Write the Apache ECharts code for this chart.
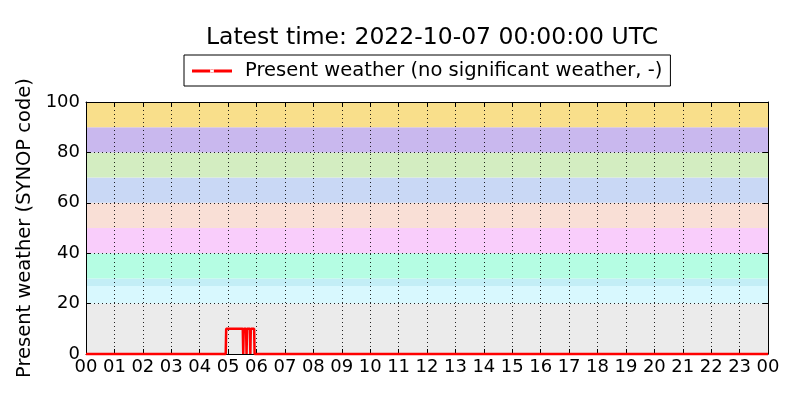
<!DOCTYPE html>
<html>
<head>
<meta charset="utf-8">
<script src="https://cdn.jsdelivr.net/npm/echarts@6/dist/echarts.min.js"></script>
<style>html,body{margin:0;padding:0;background:#fff}#c{width:800px;height:400px}</style>
</head>
<body>
<div id="c"></div>
<script>
// minutes since 00:00 UTC and present-weather code
const timesMin = [0, 295, 296, 331, 332, 333, 338, 339, 340, 346, 347, 348, 355, 356, 1440];
const weatherCode = [0, 0, 10, 10, 0, 10, 10, 0, 10, 10, 0, 10, 10, 0, 0];
const hourLabels = ['00','01','02','03','04','05','06','07','08','09','10','11','12','13','14','15','16','17','18','19','20','21','22','23','00'];
const bandLow  = [0, 20, 27, 30, 40, 50, 60, 70, 80, 90];
const bandHigh = [20, 27, 30, 40, 50, 60, 70, 80, 90, 100];
const bandColors = ['#ebebeb', '#d8f8fe', '#c3eef6', '#b5fde3', '#f9cdfb', '#f9dfd6', '#c9d8f5', '#d3edc1', '#c9b8ee', '#f9df8b'];
const titleText = 'Latest time: 2022-10-07 00:00:00 UTC';
const seriesName = 'Present weather (no significant weather, -)';
const yName = 'Present weather (SYNOP code)';

const FONT = 'DejaVu Sans';
const lineData = timesMin.map((t, i) => [t, weatherCode[i]]);
const bands = bandLow.map((lo, i) => [
  { yAxis: lo, itemStyle: { color: bandColors[i], opacity: 1 } },
  { yAxis: bandHigh[i] }
]);
const dotted = { color: '#000', width: 1, type: [1, 3], opacity: 0.85 };

const chart = echarts.init(document.getElementById('c'), null, { renderer: 'canvas' });
chart.setOption({
  animation: false,
  backgroundColor: '#fff',
  textStyle: { fontFamily: FONT },
  title: {
    text: titleText, left: 427, top: 21, textAlign: 'center',
    textStyle: { fontFamily: FONT, fontSize: 23.5, fontWeight: 'normal', color: '#000' }
  },
  legend: {
    data: [seriesName], left: 184, top: 55,
    backgroundColor: '#fff', borderColor: '#000', borderWidth: 1, borderRadius: 0,
    padding: [6, 8, 5, 8],
    itemWidth: 40, itemHeight: 4,
    icon: 'path://M0,0.5H40V3.5H0Z M18,2a2,2 0 1,0 4,0a2,2 0 1,0 -4,0Z',
    textStyle: { fontFamily: FONT, fontSize: 19.5, color: '#000', padding: [0, 0, 0, 8] }
  },
  grid: { left: 86, right: 32, top: 102, bottom: 46 },
  xAxis: [{
    type: 'value', min: 0, max: 1440, interval: 60, z: 1,
    axisLine: { show: true, onZero: false, lineStyle: { color: '#000', width: 1 } },
    axisTick: { show: true, inside: true, length: 5, lineStyle: { color: '#000' } },
    axisLabel: { formatter: v => hourLabels[Math.round(v / 60)], fontFamily: FONT, fontSize: 18, color: '#000', margin: 4 },
    splitLine: { show: true, lineStyle: dotted }
  }, {
    type: 'value', min: 0, max: 1440, interval: 60, position: 'top', z: 1,
    axisLine: { show: true, onZero: false, lineStyle: { color: '#000', width: 1 } },
    axisTick: { show: true, inside: true, length: 5, lineStyle: { color: '#000' } },
    axisLabel: { show: false }, splitLine: { show: false }
  }],
  yAxis: [{
    type: 'value', min: 0, max: 100, interval: 20, z: 1,
    name: yName, nameLocation: 'middle', nameGap: 46,
    nameTextStyle: { fontFamily: FONT, fontSize: 19.5, color: '#000' },
    axisLine: { show: true, onZero: false, lineStyle: { color: '#000', width: 1 } },
    axisTick: { show: true, inside: true, length: 5, lineStyle: { color: '#000' } },
    axisLabel: { fontFamily: FONT, fontSize: 18, color: '#000', margin: 6 },
    splitLine: { show: true, lineStyle: dotted }
  }, {
    type: 'value', min: 0, max: 100, interval: 20, position: 'right', z: 1,
    axisLine: { show: true, onZero: false, lineStyle: { color: '#000', width: 1 } },
    axisTick: { show: true, inside: true, length: 5, lineStyle: { color: '#000' } },
    axisLabel: { show: false }, splitLine: { show: false }
  }],
  series: [{
    name: 'bands', type: 'line', z: 0, silent: true,
    data: lineData, symbol: 'none', lineStyle: { opacity: 0 },
    markArea: { silent: true, z: 0, data: bands }
  }, {
    name: seriesName, type: 'line', z: 3, clip: false,
    data: lineData, symbol: 'none', color: '#ff0000',
    lineStyle: { color: '#ff0000', width: 2.5 }
  }]
});
</script>
</body>
</html>
